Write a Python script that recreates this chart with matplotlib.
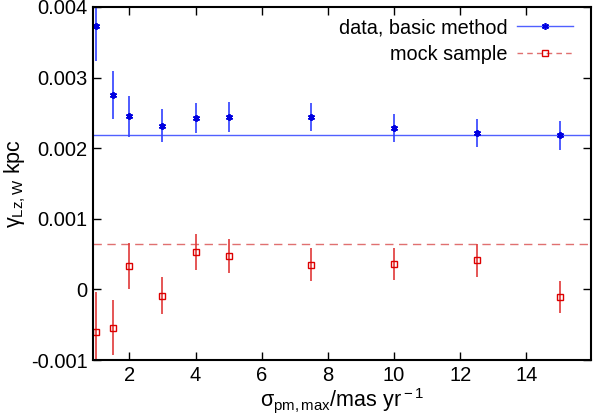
import matplotlib
matplotlib.use("Agg")
import matplotlib.pyplot as plt
from matplotlib.ticker import FuncFormatter

plt.rcParams['font.family'] = ['Liberation Sans', 'DejaVu Sans']
plt.rcParams['mathtext.fontset'] = 'custom'
plt.rcParams['mathtext.rm'] = 'Liberation Sans'
plt.rcParams['mathtext.it'] = 'Liberation Sans'

# sigma_pm,max values
sigma = [1, 1.5, 2, 3, 4, 5, 7.5, 10, 12.5, 15]

data_y = [0.00373, 0.00275, 0.00245, 0.00232, 0.00243, 0.00244, 0.00244, 0.00229, 0.00221, 0.00218]
data_err = [0.00049, 0.00034, 0.00029, 0.00023, 0.00021, 0.00021, 0.00020, 0.00020, 0.00020, 0.00020]
data_level = 0.00219

mock_y = [-0.00061, -0.00054, 0.00033, -0.00009, 0.00053, 0.00047, 0.00035, 0.00036, 0.00041, -0.00011]
mock_err = [0.00057, 0.00039, 0.00033, 0.00026, 0.00025, 0.00024, 0.00023, 0.00023, 0.00024, 0.00023]
mock_level = 0.00065

blue = '#0000e0'
red = '#dd0000'

fig = plt.figure(figsize=(5.98, 4.18), dpi=100)
ax = fig.add_axes([93 / 598, 1 - 360 / 418, (591 - 93) / 598, (360 - 7) / 418])

ax.axhline(data_level, color='#5060ff', lw=1.0)
ax.axhline(mock_level, color='#e07070', lw=1.0, ls=(0, (6, 4)))

ax.errorbar(sigma, data_y, yerr=data_err, fmt='none', ecolor='#3040ff', elinewidth=1.2)
ax.plot(sigma, data_y, ls='none', marker=(6, 2, 0), ms=5, mew=1.3, color=blue)
ax.errorbar(sigma, mock_y, yerr=mock_err, fmt='none', ecolor='#e03838', elinewidth=1.2)
ax.plot(sigma, mock_y, ls='none', marker='s', ms=4.5, mfc='none', mew=1.0, color=red)

# legend handles
h1, = ax.plot([], [], color='#5060ff', lw=1.0, marker=(6, 2, 0), ms=5, mec=blue, mew=1.2)
h2, = ax.plot([], [], color='#e07070', lw=1.0, ls=(0, (4, 3)), marker='s', ms=4.5, mfc='none', mec=red)
ax.legend([h1, h2], ['data, basic method', 'mock sample'], loc='upper right',
          bbox_to_anchor=(0.976, 0.985), borderaxespad=0,
          frameon=False, markerfirst=False, fontsize=14.3, handlelength=2.8,
          labelspacing=0.4, handletextpad=0.5, borderpad=0.3)

ax.set_xlim(0.9, 15.95)
ax.set_ylim(-0.001, 0.004)
ax.set_xticks([2, 4, 6, 8, 10, 12, 14])
ax.set_yticks([-0.001, 0, 0.001, 0.002, 0.003, 0.004])
ax.yaxis.set_major_formatter(FuncFormatter(lambda v, p: '0' if abs(v) < 1e-9 else ('%.3f' % v)))
ax.tick_params(direction='in', top=True, right=True, length=6, width=1, labelsize=14.5, pad=4)
for s in ax.spines.values():
    s.set_linewidth(1.5)

ax.set_xlabel(r'$\sigma_{\rm pm,max}$/mas yr$^{\rm -1}$', fontsize=15.5, labelpad=1)
ax.set_ylabel(r'$\gamma_{\rm Lz,W}$ kpc', fontsize=15.5, labelpad=2)

fig.savefig('out.png', dpi=100)
